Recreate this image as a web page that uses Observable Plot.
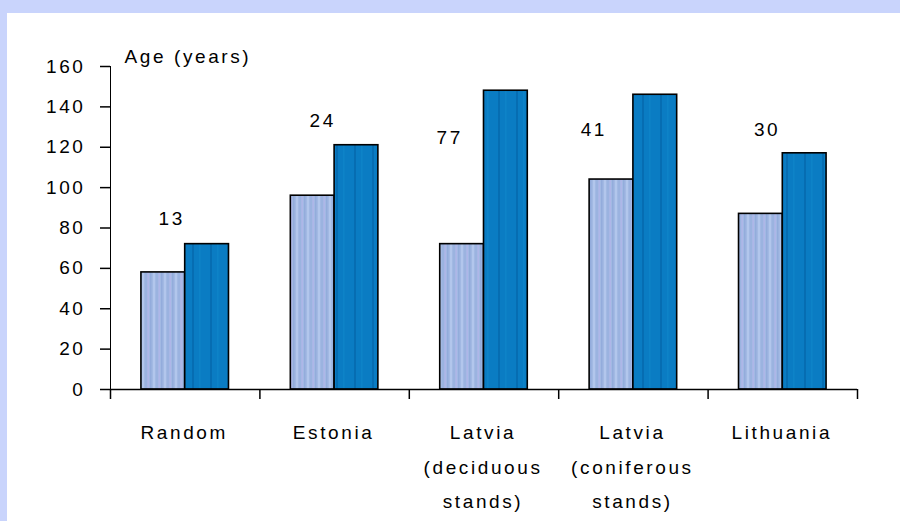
<!DOCTYPE html>
<html>
<head>
<meta charset="utf-8">
<script src="https://cdn.jsdelivr.net/npm/d3@7"></script>
<script src="https://cdn.jsdelivr.net/npm/@observablehq/plot@0.6"></script>
<style>
  html, body { margin: 0; padding: 0; background: #c9d4fc; width: 900px; height: 521px; overflow: hidden; }
  #chart { position: absolute; left: 7px; top: 13px; width: 893px; height: 508px; background: #fff; }
  #chart svg { display: block; }
  #chart svg text { letter-spacing: 2.6px; fill: #000; }
  #chart svg text.num { letter-spacing: 1px; }
  #chart svg g[aria-label="x-axis"] line,
  #chart svg g[aria-label="y-axis"] line,
  #chart svg g[aria-label="x-axis tick"] path,
  #chart svg g[aria-label="y-axis tick"] path,
  #chart svg g[aria-label="x-axis"] path,
  #chart svg g[aria-label="y-axis"] path { stroke: #000; stroke-width: 1.5; stroke-opacity: 1; }
</style>
</head>
<body>
<div id="chart"></div>
<script>
// ---- data ----
const categories = ["Random", "Estonia", "Latvia\n(deciduous\nstands)", "Latvia\n(coniferous\nstands)", "Lithuania"];
const seriesLight = [58, 96, 72, 104, 87];
const seriesDark = [72, 121, 148, 146, 117];
const barLabels = ["13", "24", "77", "41", "30"];
const yTicks = [0, 20, 40, 60, 80, 100, 120, 140, 160];
const yLabel = "Age (years)";

// annotation anchor (in category units / years)
const labelOffset = [0.41, 0.42, 0.27, 0.235, 0.395];
const labelAge = [84.5, 133, 124.5, 128.5, 128.5];

const rows = categories.map((c, i) => ({
  i, cat: c, a: seriesLight[i], b: seriesDark[i], n: barLabels[i], lx: labelOffset[i], ly: labelAge[i]
}));
const boundaries = d3.range(categories.length + 1);

const font = "'Liberation Sans', Arial, Helvetica, sans-serif";

const plot = Plot.plot({
  width: 893,
  height: 508,
  marginLeft: 103,
  marginRight: 43,
  marginTop: 53,
  marginBottom: 132,
  style: { fontFamily: font, fontSize: "19px", background: "transparent", color: "#000", overflow: "visible" },
  x: { domain: [0, categories.length], ticks: boundaries, tickFormat: () => "", tickSize: 10, label: null, line: true },
  y: { domain: [0, 160], ticks: yTicks, tickSize: 10, tickPadding: 15, tickFormat: d => String(d), label: null, line: true },
  marks: [
    Plot.rect(rows, { x1: d => d.i + 0.207, x2: d => d.i + 0.5, y1: 0, y2: d => d.a, fill: "url(#stripeLight)", stroke: "#000", strokeWidth: 1.6 }),
    Plot.rect(rows, { x1: d => d.i + 0.5, x2: d => d.i + 0.793, y1: 0, y2: d => d.b, fill: "url(#stripeDark)", stroke: "#000", strokeWidth: 1.6 }),
    Plot.ruleY([0], { stroke: "#000", strokeWidth: 1.5 }),
    Plot.text(rows, { x: d => d.i + 0.5, y: 0, text: d => d.cat, lineAnchor: "top", dy: 25, lineHeight: 1.82, fontSize: 19, dx: -1 }),
    Plot.text(rows, { x: d => d.i + d.lx, y: d => d.ly, text: d => d.n, fontSize: 19, className: "num" }),
    Plot.text([yLabel], { x: 0, y: 160, text: d => d, textAnchor: "start", lineAnchor: "bottom", dx: 14, dy: -4, fontSize: 19 })
  ]
});

// stripe patterns for the bars
const svg = d3.select(plot.tagName.toLowerCase() === "svg" ? plot : plot.querySelector("svg"));
const defs = svg.insert("defs", ":first-child");
const pl = defs.append("pattern").attr("id", "stripeLight").attr("patternUnits", "userSpaceOnUse").attr("width", 11).attr("height", 10);
pl.append("rect").attr("width", 11).attr("height", 10).attr("fill", "#a2b9e3");
[[0, 1.5, "#93acdc"], [3, 2, "#b2c6ec"], [6.5, 1, "#95addd"], [8.5, 1.5, "#aeb6e8"]].forEach(([x, w, c]) =>
  pl.append("rect").attr("x", x).attr("width", w).attr("height", 10).attr("fill", c));
const pd = defs.append("pattern").attr("id", "stripeDark").attr("patternUnits", "userSpaceOnUse").attr("width", 18).attr("height", 10);
pd.append("rect").attr("width", 18).attr("height", 10).attr("fill", "#0a7cc3");
[[5, 2, "#066db2"], [12, 1.5, "#0d83c8"]].forEach(([x, w, c]) =>
  pd.append("rect").attr("x", x).attr("width", w).attr("height", 10).attr("fill", c));

document.getElementById("chart").appendChild(plot);
</script>
</body>
</html>
